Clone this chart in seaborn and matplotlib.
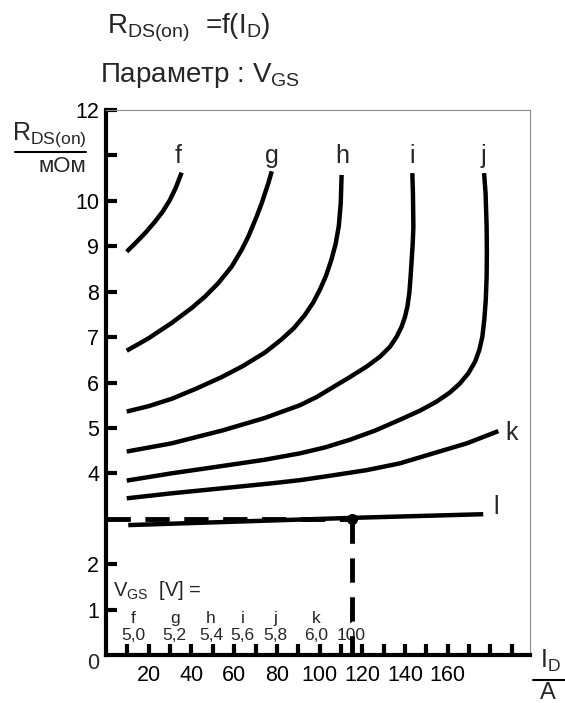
"""R_DS(on) = f(I_D), параметр V_GS."""

import matplotlib

matplotlib.use("Agg")
import matplotlib.pyplot as plt
import pandas as pd
import seaborn as sns
from matplotlib.lines import Line2D

# --- данные ---
CURVES = ["f", "g", "h", "i", "j", "k", "l"]
VGS_TEXT = ["5,0", "5,2", "5,4", "5,6", "5,8", "6,0", "100"]

F_ID = [9.7, 14.0, 18.5, 22.9, 26.5, 29.7, 32.6, 35.4]
F_R = [8.88, 9.08, 9.30, 9.54, 9.76, 10.00, 10.28, 10.62]
G_ID = [9.7, 19.8, 30.7, 40.1, 46.3, 52.6, 58.8, 63.5, 66.6, 70.5, 72.9, 76.0, 77.6]
G_R = [6.70, 6.97, 7.31, 7.64, 7.89, 8.19, 8.55, 8.92, 9.21, 9.65, 9.95, 10.39, 10.65]
H_ID = [9.7, 20.0, 30.7, 42.0, 54.2, 64.0, 74.4, 82.2, 88.0, 93.0, 97.0, 100.2,
        103.0, 105.5, 107.5, 109.0, 109.9, 110.3]
H_R = [5.36, 5.48, 5.64, 5.86, 6.12, 6.36, 6.66, 6.95, 7.20, 7.48, 7.76, 8.05,
       8.35, 8.70, 9.05, 9.45, 9.95, 10.57]
I_ID = [9.7, 30.7, 54.2, 74.4, 90.8, 98.6, 106.4, 114.2, 122.0, 128.3, 133.0, 136.1,
        138.4, 140.0, 141.1, 142.0, 142.6, 143.1, 143.6, 143.9, 143.7, 143.4]
I_R = [4.48, 4.66, 4.94, 5.22, 5.50, 5.68, 5.90, 6.12, 6.35, 6.57, 6.79, 7.01,
       7.23, 7.45, 7.67, 7.97, 8.33, 8.70, 9.07, 9.43, 10.17, 10.61]
J_ID = [9.7, 30.7, 54.2, 74.4, 90.8, 102.5, 114.2, 125.9, 137.6, 147.0, 154.8, 161.0,
        165.7, 169.6, 172.8, 174.8, 176.2, 177.1, 177.8, 178.2, 178.3, 178.2, 177.7, 177.0]
J_R = [3.84, 4.00, 4.16, 4.30, 4.44, 4.57, 4.74, 4.94, 5.18, 5.38, 5.58, 5.78,
       5.98, 6.20, 6.46, 6.72, 7.01, 7.38, 7.82, 8.33, 8.85, 9.43, 10.17, 10.61]
K_ID = [9.7, 30.7, 54.2, 77.6, 90.8, 102.5, 122.0, 137.6, 153.2, 168.9, 183.7]
K_R = [3.45, 3.56, 3.67, 3.78, 3.85, 3.93, 4.07, 4.22, 4.44, 4.66, 4.93]
L_ID = [10.4, 115.6, 176.6]
L_R = [2.86, 3.02, 3.10]

# рабочая точка (пунктир)
POINT_ID = 115.0
POINT_R = 3.0

# подписи кривых
LABEL_ID = [33.7, 77.7, 110.5, 143.1, 176.5, 186.8, 182.5]
LABEL_R = [10.84, 10.84, 10.84, 10.84, 10.84, 4.74, 3.10]
# подписи V_GS внизу
VGS_ID = [12.9, 32.1, 49.2, 63.9, 79.1, 98.2, 114.7]

X_TICKS = list(range(10, 200, 10))
X_TICK_LABELS = [str(v) if v % 20 == 0 and v <= 160 else "" for v in X_TICKS]
Y_TICKS = [1, 2, 4, 5, 6, 7, 8, 9, 10, 11, 12]
Y_TICK_LABELS = ["1", "2", "4", "5", "6", "7", "8", "9", "10", "", "12"]

series = {
    "f": (F_ID, F_R), "g": (G_ID, G_R), "h": (H_ID, H_R), "i": (I_ID, I_R),
    "j": (J_ID, J_R), "k": (K_ID, K_R), "l": (L_ID, L_R),
}
df = pd.concat(
    [pd.DataFrame({"curve": c, "I_D": series[c][0], "R": series[c][1]}) for c in CURVES],
    ignore_index=True,
)

sns.set_style("white")
plt.rcParams["font.family"] = ["Liberation Sans", "DejaVu Sans"]
plt.rcParams["mathtext.default"] = "regular"

W, H = 565, 703
fig = plt.figure(figsize=(W / 100, H / 100), dpi=100)
ax = fig.add_axes([106 / W, 48 / H, 424 / W, 545 / H])

sns.lineplot(
    data=df, x="I_D", y="R", units="curve", estimator=None, sort=False,
    color="black", linewidth=3.2, solid_capstyle="butt",
    solid_joinstyle="round", legend=False, ax=ax,
)

# пунктир к рабочей точке
dash = (0, (5, 3))
ax.plot([0, POINT_ID], [POINT_R, POINT_R], color="black", lw=3.5,
        linestyle=dash, dash_capstyle="butt", clip_on=False, zorder=5)
ax.plot([POINT_ID, POINT_ID], [POINT_R, 0], color="black", lw=3.5,
        linestyle=dash, dash_capstyle="butt", clip_on=False, zorder=5)
ax.plot([POINT_ID], [POINT_R], "o", color="black", ms=7, zorder=6)

ax.set_xlim(0, 198.5)
ax.set_ylim(0, 12)
ax.set_xlabel("")
ax.set_ylabel("")
ax.set_xticks(X_TICKS)
ax.set_xticklabels(X_TICK_LABELS)
ax.set_yticks(Y_TICKS)
ax.set_yticklabels(Y_TICK_LABELS)
ax.yaxis.get_major_ticks()[0].tick1line.set_visible(False)
ax.tick_params(axis="x", direction="in", length=8, width=3, pad=7,
               labelsize=15.5, bottom=True, top=False, colors="black")
ax.tick_params(axis="y", direction="in", length=8, width=3, pad=5,
               labelsize=15.5, left=True, right=False, colors="black")
ax.annotate("0", xy=(0, 0), xytext=(-5, -6), textcoords="offset points",
            ha="right", va="center", fontsize=15.5)

for side in ("left", "bottom"):
    ax.spines[side].set_linewidth(3)
    ax.spines[side].set_color("black")
for side in ("top", "right"):
    ax.spines[side].set_linewidth(0.8)
    ax.spines[side].set_color("#8c8c8c")

# подписи кривых
for name, x, y in zip(CURVES, LABEL_ID, LABEL_R):
    ax.text(x, y, name, ha="left" if name == "k" else "center",
            va="baseline", fontsize=18)

# таблица V_GS
ax.text(3.3, 1.30, "V$_{GS}$  [V] =", ha="left", va="baseline", fontsize=14.5)
for name, txt, x in zip(CURVES, VGS_TEXT, VGS_ID):
    ax.text(x, 0.70, name, ha="center", va="baseline", fontsize=12.5, zorder=3)
    ax.text(x, 0.33, txt, ha="center", va="baseline", fontsize=12.5, zorder=3)

# заголовок
fig.text(107 / W, 1 - 33 / H, r"$R_{DS(on)}$  =f(I$_D$)", ha="left",
         va="baseline", fontsize=20)
fig.text(100 / W, 1 - 82 / H, "Параметр : V$_{GS}$", ha="left",
         va="baseline", fontsize=20)

# ось Y: дробь R_DS(on) / мОм
fig.text(12 / W, 1 - 140 / H, r"$R_{DS(on)}$", ha="left", va="baseline", fontsize=18)
fig.add_artist(Line2D([15 / W, 86 / W], [1 - 152 / H] * 2, color="black", lw=1.5))
fig.text(86 / W, 1 - 172 / H, "мОм", ha="right", va="baseline", fontsize=16)

# ось X: дробь I_D / A
fig.text(540 / W, 1 - 668 / H, r"$I_D$", ha="left", va="baseline", fontsize=18)
fig.add_artist(Line2D([533 / W, 565 / W], [1 - 680 / H] * 2, color="black", lw=1.5))
fig.text(540 / W, 1 - 699 / H, "A", ha="left", va="baseline", fontsize=17)

fig.savefig("out.png", dpi=100)
plt.close(fig)
